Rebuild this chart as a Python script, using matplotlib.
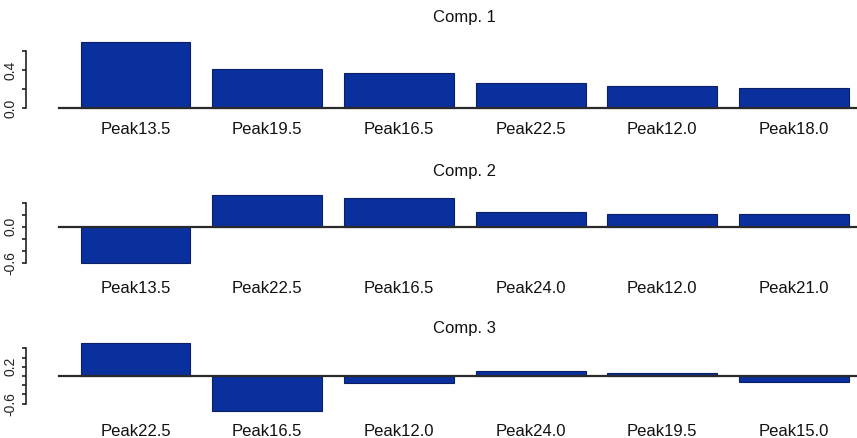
import numpy as np
import matplotlib
matplotlib.use('Agg')
import matplotlib.pyplot as plt

plt.rcParams['font.family'] = ['Liberation Sans', 'DejaVu Sans']

# loadings of the top six peaks for each component
comp1_labels = ['Peak13.5', 'Peak19.5', 'Peak16.5', 'Peak22.5', 'Peak12.0', 'Peak18.0']
comp1_values = [0.69, 0.41, 0.365, 0.265, 0.23, 0.21]

comp2_labels = ['Peak13.5', 'Peak22.5', 'Peak16.5', 'Peak24.0', 'Peak12.0', 'Peak21.0']
comp2_values = [-0.60, 0.53, 0.48, 0.245, 0.217, 0.217]

comp3_labels = ['Peak22.5', 'Peak16.5', 'Peak12.0', 'Peak24.0', 'Peak19.5', 'Peak15.0']
comp3_values = [0.71, -0.76, -0.16, 0.11, 0.07, -0.13]

titles = ['Comp. 1', 'Comp. 2', 'Comp. 3']

W, H = 857, 438
fig = plt.figure(figsize=(W / 100, H / 100), dpi=100)

bar_color = '#0a309e'
edge_color = '#0b1f66'

# per panel: pixel top/bottom, ylim, tick values, shown labels, label pad, title offset
panels = [
    dict(labels=comp1_labels, values=comp1_values, top=39.6, bottom=110.85,
         ylim=(-0.03, 0.72), ticks=[0.0, 0.2, 0.4, 0.6],
         shown={0.0: '0.0', 0.4: '0.4'}, pad=8, toff=16),
    dict(labels=comp2_labels, values=comp2_values, top=191.9, bottom=265.7,
         ylim=(-0.65, 0.58), ticks=[-0.6, -0.4, -0.2, 0.0, 0.2, 0.4],
         shown={-0.6: '-0.6', 0.0: '0.0'}, pad=11, toff=15),
    dict(labels=comp3_labels, values=comp3_values, top=340.6, bottom=413.7,
         ylim=(-0.82, 0.77), ticks=[-0.6, -0.4, -0.2, 0.0, 0.2, 0.4, 0.6],
         shown={-0.6: '-0.6', 0.2: '0.2'}, pad=7.5, toff=9),
]

left_px = 26
pitch = 131.7
first_center = 135.5
xlo = -(first_center - left_px) / pitch
xhi = 5 + (W - (first_center + 5 * pitch)) / pitch
base_start = (59 - left_px) / (W - left_px)

for i, p in enumerate(panels):
    ax = fig.add_axes([left_px / W, 1 - p['bottom'] / H,
                       (W - left_px) / W, (p['bottom'] - p['top']) / H])
    x = np.arange(len(p['values']))
    ax.bar(x, p['values'], width=0.835, color=bar_color,
           edgecolor=edge_color, linewidth=0.8, zorder=2)
    ax.axhline(0, xmin=base_start, xmax=1, color='#2a2a2a', lw=1.6, zorder=3)
    ax.set_xlim(xlo, xhi)
    ax.set_ylim(*p['ylim'])

    ax.set_xticks(x)
    ax.set_xticklabels(p['labels'], fontsize=12, color='#111111')
    ax.tick_params(axis='x', length=0, pad=p['pad'])

    ax.set_yticks(p['ticks'])
    ax.set_yticklabels([p['shown'].get(t, '') for t in p['ticks']],
                       rotation=90, va='center', fontsize=10, color='#222222')
    ax.tick_params(axis='y', length=3, width=1.2, pad=3, color='#222222')

    for s in ['top', 'right', 'bottom']:
        ax.spines[s].set_visible(False)
    ax.spines['left'].set_bounds(p['ticks'][0], p['ticks'][-1])
    ax.spines['left'].set_linewidth(1.2)
    ax.spines['left'].set_color('#222222')

    ax.annotate(titles[i], xy=(2.5, 1), xycoords=ax.get_xaxis_transform(),
                xytext=(0, p['toff']), textcoords='offset points',
                ha='center', va='center', fontsize=12, color='#111111')

fig.savefig('out.png', dpi=100)
